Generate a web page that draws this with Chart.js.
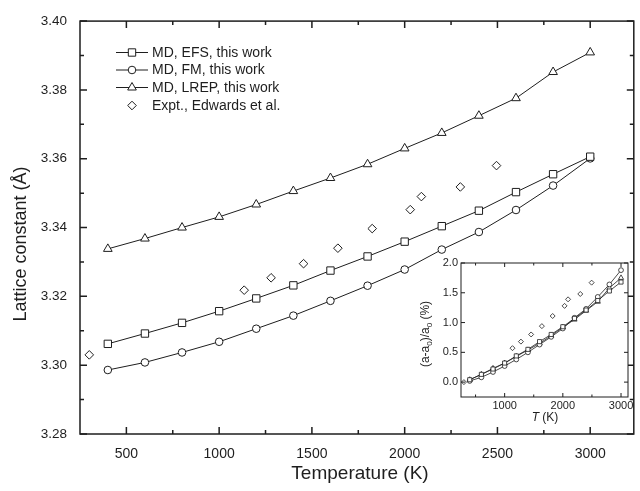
<!DOCTYPE html>
<html>
<head>
<meta charset="utf-8">
<script src="https://cdn.jsdelivr.net/npm/chart.js@4.4.1/dist/chart.umd.min.js"></script>
<style>
  html, body { margin: 0; padding: 0; background: #fff; }
  #wrap { position: relative; width: 640px; height: 491px; }
  #main { position: absolute; left: 0; top: 0; }
  #inset { position: absolute; left: 400px; top: 252px; }
</style>
</head>
<body>
<div id="wrap">
  <canvas id="main" width="640" height="491"></canvas>
  <canvas id="inset" width="240" height="198"></canvas>
</div>
<script>
// main panel: lattice constant (Å) vs temperature (K)
const temps = [400, 600, 800, 1000, 1200, 1400, 1600, 1800, 2000, 2200, 2400, 2600, 2800, 3000];
const efs  = [3.3062, 3.3092, 3.3123, 3.3157, 3.3194, 3.3232, 3.3275, 3.3316, 3.3359, 3.3404, 3.3449, 3.3503, 3.3555, 3.3606];
const fm   = [3.2986, 3.3008, 3.3037, 3.3068, 3.3106, 3.3144, 3.3187, 3.3231, 3.3278, 3.3336, 3.3387, 3.3451, 3.3522, 3.3601];
const lrep = [3.3338, 3.3368, 3.3400, 3.3431, 3.3467, 3.3506, 3.3544, 3.3584, 3.3630, 3.3675, 3.3725, 3.3776, 3.3852, 3.3909];
const exptT = [300, 1135, 1280, 1455, 1640, 1825, 2030, 2090, 2300, 2495];
const exptA = [3.3030, 3.3218, 3.3254, 3.3295, 3.3340, 3.3397, 3.3452, 3.3490, 3.3518, 3.3580];

// inset: relative expansion (%)
const efsPct  = [0.04, 0.13, 0.22, 0.32, 0.44, 0.55, 0.68, 0.80, 0.93, 1.07, 1.21, 1.37, 1.53, 1.68];
const fmPct   = [0.02, 0.08, 0.17, 0.27, 0.38, 0.50, 0.63, 0.76, 0.90, 1.08, 1.23, 1.43, 1.64, 1.88];
const lrepPct = [0.04, 0.13, 0.23, 0.32, 0.43, 0.54, 0.65, 0.78, 0.92, 1.05, 1.20, 1.35, 1.58, 1.75];
const exptPct = [0.00, 0.57, 0.68, 0.80, 0.94, 1.11, 1.28, 1.39, 1.48, 1.67];

const legendLabels = ['MD, EFS, this work', 'MD, FM, this work', 'MD, LREP, this work', 'Expt., Edwards et al.'];

// tick values
const xTicks = [500, 1000, 1500, 2000, 2500, 3000];
const xMinor = [750, 1250, 1750, 2250, 2750];
const yTicks = [3.28, 3.30, 3.32, 3.34, 3.36, 3.38, 3.40];
const yMinor = [3.29, 3.31, 3.33, 3.35, 3.37, 3.39];
const insetXTicks = [1000, 2000, 3000];
const insetXMinor = [500, 1500, 2500];
const insetYTicks = [0.0, 0.5, 1.0, 1.5, 2.0];
const insetYMinor = [];

const FONT = "'Liberation Sans', Arial, sans-serif";
const INK = '#1e1e1e';

const pts = (xs, ys) => xs.map((x, i) => ({ x: x, y: ys[i] }));

// inward ticks on all four sides plus the frame
const frameTicks = {
  id: 'frameTicks',
  afterDraw(chart, args, o) {
    const { ctx, chartArea: a } = chart;
    const x = chart.scales.x, y = chart.scales.y;
    ctx.save();
    ctx.strokeStyle = INK;
    ctx.lineWidth = o.width;
    ctx.beginPath();
    const xt = (vals, len) => vals.forEach(v => {
      const px = x.getPixelForValue(v);
      ctx.moveTo(px, a.bottom); ctx.lineTo(px, a.bottom - len);
      ctx.moveTo(px, a.top); ctx.lineTo(px, a.top + len);
    });
    const yt = (vals, len) => vals.forEach(v => {
      const py = y.getPixelForValue(v);
      ctx.moveTo(a.left, py); ctx.lineTo(a.left + len, py);
      ctx.moveTo(a.right, py); ctx.lineTo(a.right - len, py);
    });
    xt(o.xMajor, o.major); xt(o.xMinor, o.minor);
    yt(o.yMajor, o.major); yt(o.yMinor, o.minor);
    ctx.stroke();
    ctx.strokeRect(a.left, a.top, a.right - a.left, a.bottom - a.top);
    ctx.restore();
  }
};

const whiteArea = {
  id: 'whiteArea',
  beforeDraw(chart) {
    const { ctx, chartArea: a } = chart;
    ctx.save();
    ctx.fillStyle = '#fff';
    ctx.fillRect(a.left, a.top, a.right - a.left, a.bottom - a.top);
    ctx.restore();
  }
};

const mainTitles = {
  id: 'mainTitles',
  afterDraw(chart) {
    const ctx = chart.ctx;
    ctx.save();
    ctx.fillStyle = INK;
    ctx.textAlign = 'center';
    ctx.textBaseline = 'middle';
    ctx.font = '19px ' + FONT;
    ctx.fillText('Temperature (K)', 360, 474);
    ctx.translate(21, 244);
    ctx.rotate(-Math.PI / 2);
    ctx.font = '18px ' + FONT;
    ctx.fillText('Lattice constant (\u00C5)', 0, 0);
    ctx.restore();

    // legend: line + marker, then label
    const rows = [52.5, 70, 87.5, 105.5];
    ctx.save();
    ctx.font = '14px ' + FONT;
    ctx.textBaseline = 'middle';
    ctx.textAlign = 'left';
    chart.data.datasets.forEach((ds, i) => {
      const yy = rows[i];
      if (ds.showLine !== false) {
        ctx.strokeStyle = ds.borderColor;
        ctx.lineWidth = ds.borderWidth;
        ctx.beginPath();
        ctx.moveTo(116, yy); ctx.lineTo(148, yy);
        ctx.stroke();
      }
      ctx.fillStyle = '#fff';
      ctx.strokeStyle = ds.pointBorderColor;
      ctx.lineWidth = ds.pointBorderWidth;
      Chart.helpers.drawPoint(ctx, {
        pointStyle: ds.pointStyle, radius: ds.pointRadius, rotation: 0, borderWidth: ds.pointBorderWidth
      }, 132, yy);
      ctx.fillStyle = INK;
      ctx.fillText(legendLabels[i], 152, yy + 0.5);
    });
    ctx.restore();
  }
};

const insetTitles = {
  id: 'insetTitles',
  afterDraw(chart) {
    const ctx = chart.ctx;
    ctx.save();
    ctx.fillStyle = INK;
    ctx.textBaseline = 'alphabetic';
    // x title: italic T (K)
    const big = '12px ' + FONT, small = '8px ' + FONT;
    ctx.font = 'italic ' + big;
    const wT = ctx.measureText('T').width;
    ctx.font = big;
    const wK = ctx.measureText(' (K)').width;
    let x0 = 145 - (wT + wK) / 2;
    ctx.font = 'italic ' + big;
    ctx.fillText('T', x0, 169);
    ctx.font = big;
    ctx.fillText(' (K)', x0 + wT, 169);

    // y title: (a-a0)/a0 (%)
    const parts = [['(a-a', big, 0], ['0', small, 3], [')/a', big, 0], ['0', small, 3], [' (%)', big, 0]];
    let total = 0;
    parts.forEach(p => { ctx.font = p[1]; total += ctx.measureText(p[0]).width; });
    ctx.translate(29, 82);
    ctx.rotate(-Math.PI / 2);
    let cx = -total / 2;
    parts.forEach(p => {
      ctx.font = p[1];
      ctx.fillText(p[0], cx, p[2]);
      cx += ctx.measureText(p[0]).width;
    });
    ctx.restore();
  }
};

function lineSet(label, data, style, radius, lw) {
  return {
    label: label, data: data, showLine: true,
    borderColor: INK, borderWidth: lw,
    pointStyle: style, pointRadius: radius, pointHoverRadius: radius,
    pointBorderColor: INK, pointBorderWidth: lw, pointBackgroundColor: '#fff',
    backgroundColor: '#fff', tension: 0
  };
}

function dotSet(label, data, radius, lw) {
  return {
    label: label, data: data, showLine: false,
    borderColor: INK, borderWidth: lw,
    pointStyle: 'rectRot', pointRadius: radius, pointHoverRadius: radius,
    pointBorderColor: INK, pointBorderWidth: lw, pointBackgroundColor: '#fff'
  };
}

new Chart(document.getElementById('main'), {
  type: 'scatter',
  data: {
    datasets: [
      lineSet('MD, EFS, this work', pts(temps, efs), 'rect', 5.2, 1),
      lineSet('MD, FM, this work', pts(temps, fm), 'circle', 3.8, 1),
      lineSet('MD, LREP, this work', pts(temps, lrep), 'triangle', 5, 1),
      dotSet('Expt., Edwards et al.', pts(exptT, exptA), 4.3, 1)
    ]
  },
  options: {
    responsive: false,
    animation: false,
    devicePixelRatio: 1,
    layout: { padding: { top: 15, right: 1, left: 0, bottom: 0 } },
    plugins: {
      legend: { display: false },
      tooltip: { enabled: false },
      frameTicks: { xMajor: xTicks, xMinor: xMinor, yMajor: yTicks, yMinor: yMinor, major: 7, minor: 4, width: 1.5 }
    },
    scales: {
      x: {
        type: 'linear', min: 250, max: 3235,
        grid: { display: false, drawTicks: false }, border: { display: false },
        afterBuildTicks: s => { s.ticks = xTicks.map(v => ({ value: v })); },
        afterFit: s => { s.height = 57; },
        ticks: { color: INK, font: { family: FONT, size: 14 }, padding: 12, maxRotation: 0, callback: v => String(v) }
      },
      y: {
        type: 'linear', min: 3.28, max: 3.40,
        grid: { display: false, drawTicks: false }, border: { display: false },
        afterBuildTicks: s => { s.ticks = yTicks.map(v => ({ value: v })); },
        afterFit: s => { s.width = 80; },
        ticks: { color: INK, font: { family: FONT, size: 13.5 }, padding: 13, callback: v => v.toFixed(2) }
      }
    }
  },
  plugins: [frameTicks, mainTitles]
});

new Chart(document.getElementById('inset'), {
  type: 'scatter',
  data: {
    datasets: [
      lineSet('EFS', pts(temps, efsPct), 'rect', 2.9, 0.8),
      lineSet('FM', pts(temps, fmPct), 'circle', 2.4, 0.8),
      lineSet('LREP', pts(temps, lrepPct), 'triangle', 3, 0.8),
      dotSet('Expt.', pts(exptT, exptPct), 2.5, 0.8)
    ]
  },
  options: {
    responsive: false,
    animation: false,
    devicePixelRatio: 1,
    layout: { padding: { top: 11, right: 12, left: 0, bottom: 0 } },
    plugins: {
      legend: { display: false },
      tooltip: { enabled: false },
      frameTicks: { xMajor: insetXTicks, xMinor: insetXMinor, yMajor: insetYTicks, yMinor: insetYMinor, major: 4, minor: 2.5, width: 1 }
    },
    scales: {
      x: {
        type: 'linear', min: 250, max: 3120,
        grid: { display: false, drawTicks: false }, border: { display: false },
        afterBuildTicks: s => { s.ticks = insetXTicks.map(v => ({ value: v })); },
        afterFit: s => { s.height = 53; },
        ticks: { color: INK, font: { family: FONT, size: 11 }, padding: 2, maxRotation: 0, callback: v => String(v) }
      },
      y: {
        type: 'linear', min: -0.25, max: 2.0,
        grid: { display: false, drawTicks: false }, border: { display: false },
        afterBuildTicks: s => { s.ticks = insetYTicks.map(v => ({ value: v })); },
        afterFit: s => { s.width = 61; },
        ticks: { color: INK, font: { family: FONT, size: 11 }, padding: 3, callback: v => v.toFixed(1) }
      }
    }
  },
  plugins: [whiteArea, frameTicks, insetTitles]
});
</script>
</body>
</html>
